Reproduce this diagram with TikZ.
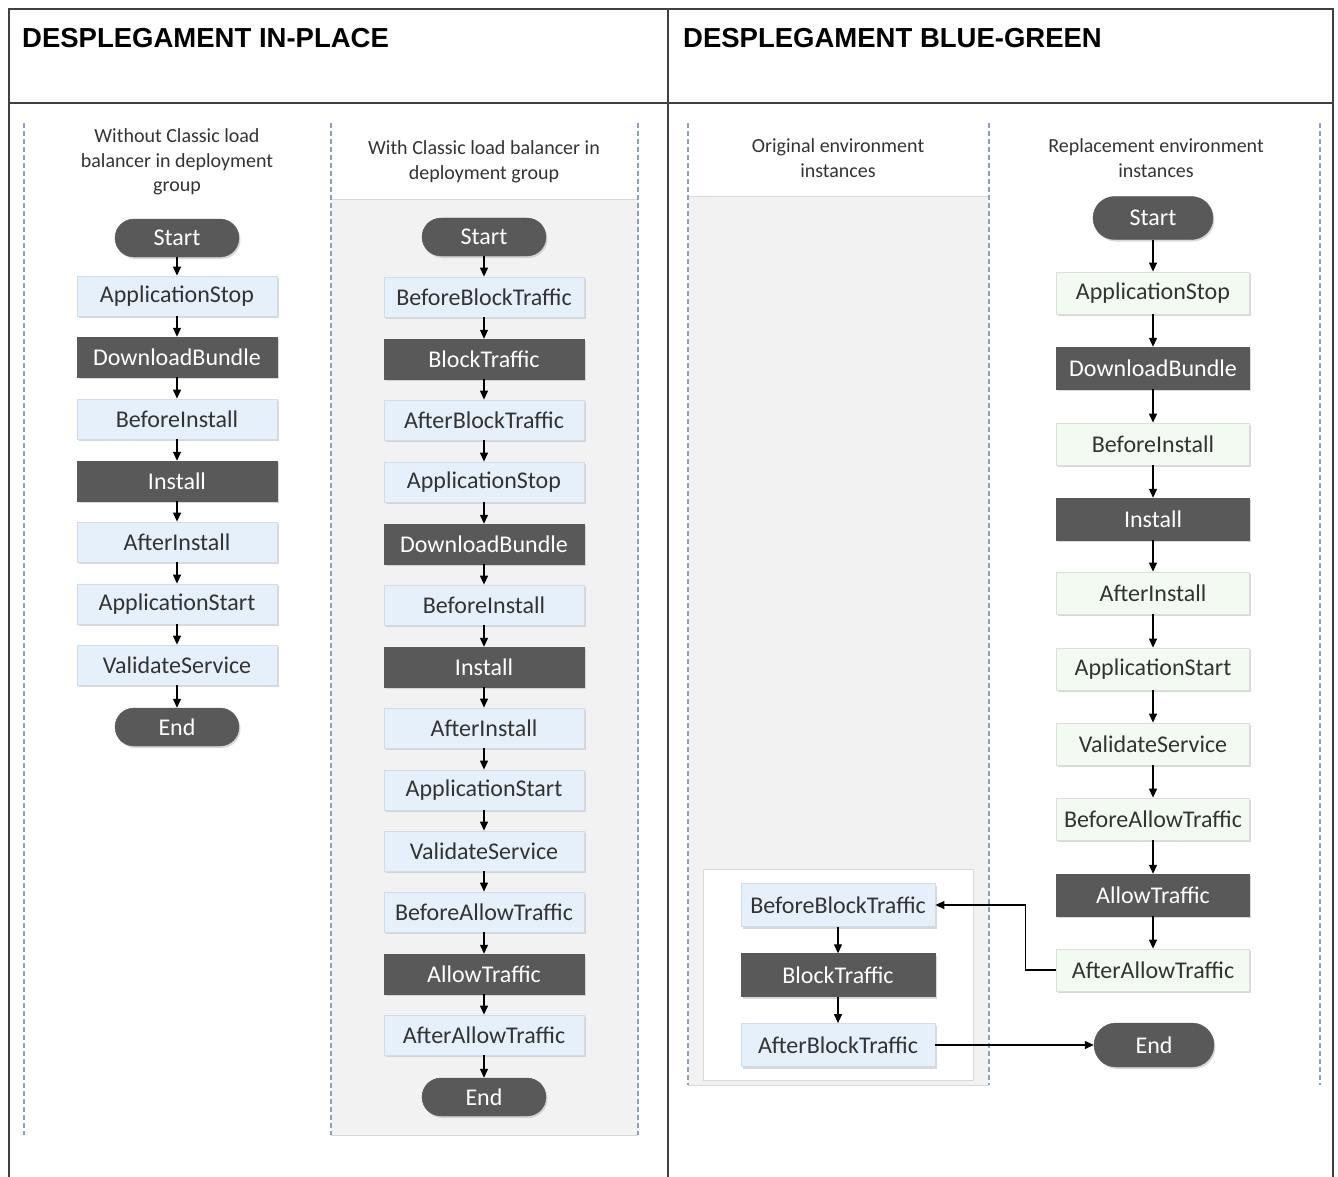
\documentclass[tikz,border=0pt]{standalone}
\usepackage{fontspec}
\setmainfont{Carlito}
\newfontfamily\titlefont{Liberation Sans}
\usetikzlibrary{arrows.meta,shapes.misc,positioning,shadows}
\definecolor{lblue}{HTML}{E6F0FB}
\definecolor{lblueb}{HTML}{D2DCE8}
\definecolor{lgreen}{HTML}{F3FAF2}
\definecolor{lgreenb}{HTML}{D8E0D8}
\definecolor{dgray}{HTML}{595959}
\definecolor{txt}{HTML}{333333}
\definecolor{panel}{HTML}{F2F2F2}
\definecolor{panelb}{HTML}{D9D9D9}
\definecolor{dashc}{HTML}{8CA0B8}
\definecolor{framec}{HTML}{404040}
\definecolor{shad}{HTML}{C8C8C8}
\begin{document}
\begin{tikzpicture}[x=1pt,y=-1pt,
  every node/.style={inner sep=0pt},
  boxtxt/.style={font=\fontsize{24}{28}\selectfont},
  sh/.style={drop shadow={shadow xshift=1.5pt,shadow yshift=-2pt,fill=shad,opacity=0.7}},
  lbox/.style={rectangle,boxtxt,sh,fill=lblue,draw=lblueb,line width=0.8pt,text=txt,minimum width=200,minimum height=40},
  dbox/.style={rectangle,boxtxt,sh,fill=dgray,draw=dgray,text=white,minimum width=200,minimum height=40},
  gbox/.style={rectangle,boxtxt,sh,fill=lgreen,draw=lgreenb,line width=0.8pt,text=txt,minimum width=193,minimum height=42},
  pill/.style={rounded rectangle,boxtxt,sh,fill=dgray,draw=dgray,text=white,minimum width=124,minimum height=38},
  hdr/.style={font=\fontsize{20}{24.5}\selectfont,text=txt,align=center},
  ttl/.style={font=\titlefont\bfseries\fontsize{27.5}{30}\selectfont,anchor=west,text=black},
  arr/.style={-{Triangle[length=9pt,width=8pt]},line width=1.2pt,black},
  dsh/.style={dashc,line width=1.2pt,dash pattern=on 5pt off 3pt},
  frm/.style={framec,line width=1.3pt}]
\useasboundingbox (0,0) rectangle (1338,1177);
% frame
\draw[frm] (9,1177) -- (9,9) -- (1333,9) -- (1333,1177);
\draw[frm] (668,9) -- (668,1177);
\draw[frm] (9,103) -- (1333,103);
\node[ttl] (t1) at (22,38) {DESPLEGAMENT IN-PLACE};
\node[ttl] (t2) at (683,38) {DESPLEGAMENT BLUE-GREEN};
% panels
\fill[panel] (331,200) rectangle (638,1135);
\draw[panelb,line width=1pt] (331,200) -- (638,200);
\draw[panelb,line width=1pt] (331,1135) -- (638,1135);
\fill[panel] (688,197) rectangle (989,1085);
\draw[panelb,line width=1pt] (688,197) -- (989,197);
\draw[panelb,line width=1pt] (688,1085) -- (989,1085);
\draw[panelb,fill=white,line width=1pt] (703,869) rectangle (973,1080);
% dashed separators
\draw[dsh] (24,123) -- (24,1135);
\draw[dsh] (331,123) -- (331,1135);
\draw[dsh] (638,123) -- (638,1135);
\draw[dsh] (688,123) -- (688,1085);
\draw[dsh] (989,123) -- (989,1085);
\draw[dsh] (1320,123) -- (1320,1085);
% headers
\node[hdr] (h1) at (177,162) {Without Classic load\\balancer in deployment\\group};
\node[hdr] (h2) at (484,162) {With Classic load balancer in\\deployment group};
\node[hdr] (h3) at (838,158) {Original environment\\instances};
\node[hdr] (h4) at (1156,158) {Replacement environment\\instances};
% left column
\node[pill] (a0) at (177,238) {Start};
\node[lbox] (a1) at (177,296) {ApplicationStop};
\node[dbox] (a2) at (177,357) {DownloadBundle};
\node[lbox] (a3) at (177,419) {BeforeInstall};
\node[dbox] (a4) at (177,481) {Install};
\node[lbox] (a5) at (177,542) {AfterInstall};
\node[lbox] (a6) at (177,604) {ApplicationStart};
\node[lbox] (a7) at (177,665) {ValidateService};
\node[pill] (a8) at (177,727) {End};
\foreach \i [evaluate=\i as \j using int(\i+1)] in {0,...,7}
  \draw[arr] (a\i.south) -- (a\j.north);
% middle column
\node[pill] (b0) at (484,237) {Start};
\node[lbox] (b1) at (484,297) {BeforeBlockTraffic};
\node[dbox] (b2) at (484,359) {BlockTraffic};
\node[lbox] (b3) at (484,420) {AfterBlockTraffic};
\node[lbox] (b4) at (484,482) {ApplicationStop};
\node[dbox] (b5) at (484,544) {DownloadBundle};
\node[lbox] (b6) at (484,605) {BeforeInstall};
\node[dbox] (b7) at (484,667) {Install};
\node[lbox] (b8) at (484,728) {AfterInstall};
\node[lbox] (b9) at (484,790) {ApplicationStart};
\node[lbox] (b10) at (484,851) {ValidateService};
\node[lbox] (b11) at (484,912) {BeforeAllowTraffic};
\node[dbox] (b12) at (484,974) {AllowTraffic};
\node[lbox] (b13) at (484,1035) {AfterAllowTraffic};
\node[pill] (b14) at (484,1097) {End};
\foreach \i [evaluate=\i as \j using int(\i+1)] in {0,...,13}
  \draw[arr] (b\i.south) -- (b\j.north);
% right column
\node[pill,minimum width=120,minimum height=43] (c0) at (1153,218) {Start};
\node[gbox] (c1) at (1153,293) {ApplicationStop};
\node[dbox,minimum width=193,minimum height=42] (c2) at (1153,368) {DownloadBundle};
\node[gbox] (c3) at (1153,444) {BeforeInstall};
\node[dbox,minimum width=193,minimum height=42] (c4) at (1153,519) {Install};
\node[gbox] (c5) at (1153,593) {AfterInstall};
\node[gbox] (c6) at (1153,669) {ApplicationStart};
\node[gbox] (c7) at (1153,744) {ValidateService};
\node[gbox] (c8) at (1153,819) {BeforeAllowTraffic};
\node[dbox,minimum width=193,minimum height=42] (c9) at (1153,895) {AllowTraffic};
\node[gbox] (c10) at (1153,970) {AfterAllowTraffic};
\foreach \i [evaluate=\i as \j using int(\i+1)] in {0,...,9}
  \draw[arr] (c\i.south) -- (c\j.north);
\node[pill,minimum width=120,minimum height=44] (c11) at (1154,1045) {End};
% original environment inner flow
\node[lbox,minimum width=194,minimum height=43] (d1) at (838,905) {BeforeBlockTraffic};
\node[dbox,minimum width=194,minimum height=43] (d2) at (838,975) {BlockTraffic};
\node[lbox,minimum width=194,minimum height=43] (d3) at (838,1045) {AfterBlockTraffic};
\draw[arr] (d1.south) -- (d2.north);
\draw[arr] (d2.south) -- (d3.north);
\draw[arr] (c10.west) -- ++(-31,0) |- (d1.east);
\draw[arr] (d3.east) -- (c11.west);
\end{tikzpicture}
\end{document}
